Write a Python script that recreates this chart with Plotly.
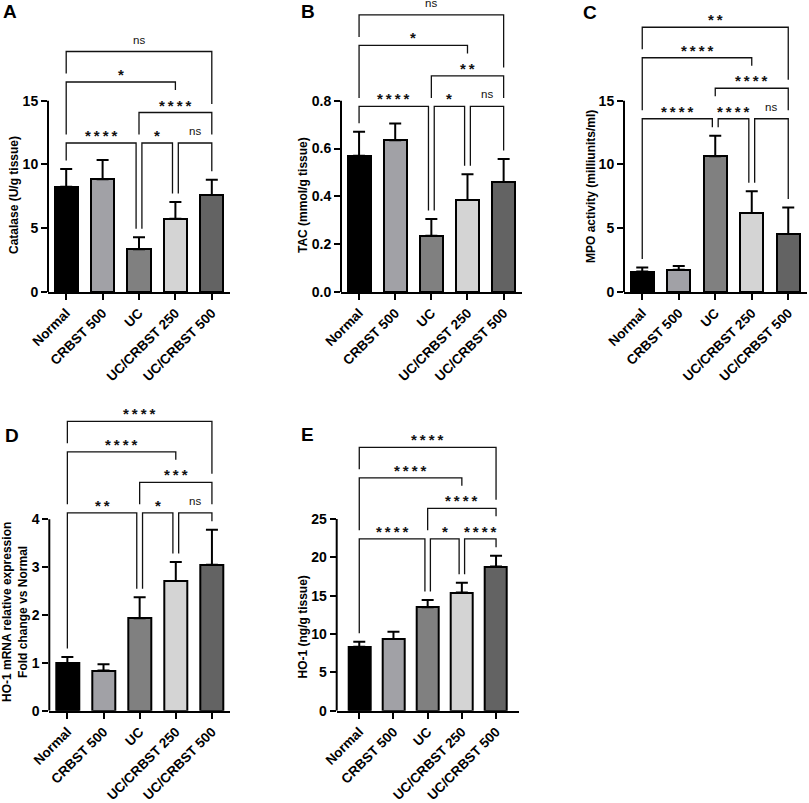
"""
Five-panel GraphPad-style bar chart (mean + SD with significance brackets).
"""

import plotly.graph_objects as go

W, H = 809, 803

CATEGORIES = ["Normal", "CRBST 500", "UC", "UC/CRBST 250", "UC/CRBST 500"]
BAR_COLORS = ["#000000", "#a1a1a6", "#808080", "#d4d4d4", "#636363"]

CATALASE_MEAN = [8.25, 8.85, 3.35, 5.75, 7.6]
CATALASE_SD = [1.4, 1.5, 0.95, 1.3, 1.2]
TAC_MEAN = [0.57, 0.635, 0.235, 0.385, 0.46]
TAC_SD = [0.1, 0.07, 0.07, 0.107, 0.096]
MPO_MEAN = [1.6, 1.75, 10.65, 6.2, 4.55]
MPO_SD = [0.33, 0.28, 1.6, 1.7, 2.07]
HO1_MRNA_MEAN = [0.99, 0.84, 1.93, 2.71, 3.05]
HO1_MRNA_SD = [0.13, 0.13, 0.44, 0.4, 0.73]
HO1_MEAN = [8.35, 9.35, 13.5, 15.4, 18.8]
HO1_SD = [0.65, 0.95, 0.95, 1.3, 1.4]

# comparisons, bottom row first; labels follow the same order
BRACKET_ROWS = [[(0, 2), (2, 3), (3, 4)], [(2, 4)], [(0, 3)], [(0, 4)]]
CATALASE_SIG = ["****", "*", "ns", "****", "*", "ns"]
TAC_SIG = ["****", "*", "ns", "**", "*", "ns"]
MPO_SIG = ["****", "****", "ns", "****", "****", "**"]
HO1_MRNA_SIG = ["**", "*", "ns", "***", "****", "****"]
HO1_SIG = ["****", "*", "****", "****", "****", "****"]

CATALASE_TICKS = [0, 5, 10, 15]
TAC_TICKS = [0.0, 0.2, 0.4, 0.6, 0.8]
MPO_TICKS = [0, 5, 10, 15]
HO1_MRNA_TICKS = [0, 1, 2, 3, 4]
HO1_TICKS = [0, 5, 10, 15, 20, 25]

FONT = "Liberation Sans, Arial, sans-serif"
TICK_FONT = dict(family=FONT, size=14, color="black", weight="bold")
CAT_FONT = dict(family=FONT, size=13.5, color="black", weight="bold")

# pixel geometry: axis left/right, pixel of y=0, pixel of top tick, domain top
PANELS = [
    dict(letter="A", mean=CATALASE_MEAN, sd=CATALASE_SD, sig=CATALASE_SIG,
         ticks=CATALASE_TICKS, fmt="", title="Catalase (U/g tissue)",
         left=48, right=230, zero=292, axis_top=100.7, top=8, xrange=(-0.5, 4.5),
         letter_xy=(10, 12), title_xy=(14, 195)),
    dict(letter="B", mean=TAC_MEAN, sd=TAC_SD, sig=TAC_SIG,
         ticks=TAC_TICKS, fmt=".1f", title="TAC (mmol/g tissue)",
         left=341, right=521.7, zero=292, axis_top=100.7, top=8, xrange=(-0.5, 4.5),
         letter_xy=(308, 12), title_xy=(303, 195)),
    dict(letter="C", mean=MPO_MEAN, sd=MPO_SD, sig=MPO_SIG,
         ticks=MPO_TICKS, fmt="", title="MPO activity (milliunits/ml)",
         left=624, right=806.5, zero=292, axis_top=100.7, top=8, xrange=(-0.5, 4.5),
         letter_xy=(590, 13), title_xy=(591, 187)),
    dict(letter="D", mean=HO1_MRNA_MEAN, sd=HO1_MRNA_SD, sig=HO1_MRNA_SIG,
         ticks=HO1_MRNA_TICKS, fmt="",
         title="HO-1 mRNA relative expression<br>Fold change vs Normal",
         left=49.3, right=230, zero=710.7, axis_top=519.3, top=410, xrange=(-0.5, 4.5),
         letter_xy=(12, 436), title_xy=(15, 612)),
    dict(letter="E", mean=HO1_MEAN, sd=HO1_SD, sig=HO1_SIG,
         ticks=HO1_TICKS, fmt="", title="HO-1 (ng/g tissue)",
         left=336.7, right=519.3, zero=710.7, axis_top=519, top=410, xrange=(-0.66, 4.68),
         letter_xy=(307, 435), title_xy=(302.5, 627)),
]

DELTA = 0.08      # leg offset where two brackets meet
TOL = 0.1
LOW_GAP = 17      # px above highest error bar
ROW_STEP = 30.5   # px between bracket rows
LEG_GAP = 8.5     # px gap at leg ends
LABEL_H = 14      # px label height above line


def main():
    fig = go.Figure()
    shapes, annotations = [], []
    layout = {}

    for k, p in enumerate(PANELS):
        n = "" if k == 0 else str(k + 1)
        xa, ya = "x" + n, "y" + n
        ax_top = p["ticks"][-1]
        ppu = (p["zero"] - p["axis_top"]) / ax_top
        ymax = (p["zero"] - p["top"]) / ppu
        ppc = (p["right"] - p["left"]) / (p["xrange"][1] - p["xrange"][0])

        fig.add_trace(go.Bar(
            x=list(range(len(CATEGORIES))), y=p["mean"], width=0.64,
            marker=dict(color=BAR_COLORS, line=dict(color="black", width=2)),
            error_y=dict(type="data", array=p["sd"], arrayminus=[0] * 5,
                         symmetric=False, color="black", thickness=2, width=6),
            xaxis=xa, yaxis=ya, showlegend=False, hoverinfo="skip",
        ))

        layout["xaxis" + n] = dict(
            domain=[p["left"] / W, p["right"] / W], range=list(p["xrange"]),
            anchor=ya, tickmode="array", tickvals=list(range(5)), ticktext=CATEGORIES,
            tickangle=-45, ticks="outside", ticklen=6, tickwidth=2, tickcolor="black",
            showline=True, linewidth=2, linecolor="black", showgrid=False,
            zeroline=False, tickfont=CAT_FONT, fixedrange=True, automargin=False,
        )
        layout["yaxis" + n] = dict(
            domain=[1 - p["zero"] / H, 1 - p["top"] / H], range=[0, ymax],
            anchor=xa, tickmode="array", tickvals=p["ticks"], tickformat=p["fmt"],
            ticks="outside", ticklen=6, tickwidth=2, tickcolor="black",
            showline=False, showgrid=False, zeroline=False,
            tickfont=TICK_FONT, fixedrange=True, automargin=False,
        )

        # y axis line only up to the last tick
        shapes.append(dict(type="line", xref=xa + " domain", yref=ya,
                           x0=0, x1=0, y0=0, y1=ax_top,
                           line=dict(color="black", width=2)))

        # significance brackets
        err_top = [m + s for m, s in zip(p["mean"], p["sd"])]
        base = max(err_top) + LOW_GAP / ppu
        levels = [base + r * ROW_STEP / ppu for r in range(len(BRACKET_ROWS))]
        labels = iter(p["sig"])
        drawn = []
        for r, row in enumerate(BRACKET_ROWS):
            starts = [i for i, _ in row]
            ends = [j for _, j in row]
            for i, j in row:
                lab = next(labels)
                xl = i + (DELTA if i in ends else 0)
                xr = j - (DELTA if j in starts else 0)
                lev = levels[r]
                bottoms = []
                for x in (xl, xr):
                    obst = err_top[round(x)]
                    for (r2, xl2, xr2, lev2, hw, ltop) in drawn:
                        if r2 >= r:
                            continue
                        if xl2 - TOL <= x <= xr2 + TOL:
                            obst = max(obst, lev2)
                        if abs(x - (xl2 + xr2) / 2) <= hw:
                            obst = max(obst, ltop)
                    bottoms.append(min(obst + LEG_GAP / ppu, lev))
                shapes.append(dict(
                    type="path", xref=xa, yref=ya,
                    path=f"M {xl},{bottoms[0]} L {xl},{lev} L {xr},{lev} L {xr},{bottoms[1]}",
                    line=dict(color="#111111", width=1.3),
                ))
                is_ns = lab == "ns"
                annotations.append(dict(
                    x=(xl + xr) / 2, y=lev, xref=xa, yref=ya,
                    text=lab if is_ns else "\u2009".join(lab),
                    showarrow=False, xanchor="center", yanchor="bottom",
                    yshift=4 if is_ns else -3,
                    font=dict(family=FONT, size=11.5 if is_ns else 15, color="#111111",
                              weight="normal" if is_ns else "bold"),
                ))
                wpx = 10 if is_ns else 8.3 * len(lab)
                hw = (wpx / 2 + 3) / ppc
                drawn.append((r, xl, xr, lev, hw, lev + LABEL_H / ppu))

        # panel letter and y title
        lx, ly = p["letter_xy"]
        annotations.append(dict(
            x=lx / W, y=1 - ly / H, xref="paper", yref="paper", text=p["letter"],
            showarrow=False, xanchor="center", yanchor="middle",
            font=dict(family=FONT, size=19, color="black", weight="bold"),
        ))
        tx, ty = p["title_xy"]
        annotations.append(dict(
            x=tx / W, y=1 - ty / H, xref="paper", yref="paper", text=p["title"],
            showarrow=False, xanchor="center", yanchor="middle", textangle=-90,
            font=dict(family=FONT, size=12, color="black", weight="bold"),
        ))

    fig.update_layout(
        **layout,
        width=W, height=H,
        margin=dict(l=0, r=0, t=0, b=0),
        paper_bgcolor="white", plot_bgcolor="white",
        shapes=shapes, annotations=annotations,
        bargap=0,
    )
    # drop the default page margin so the figure sits at the window's corner
    fig.write_html(
        "out.html",
        config={"displayModeBar": False},
        post_script="document.body.style.margin='0';document.body.style.overflow='hidden';",
    )


if __name__ == "__main__":
    main()
